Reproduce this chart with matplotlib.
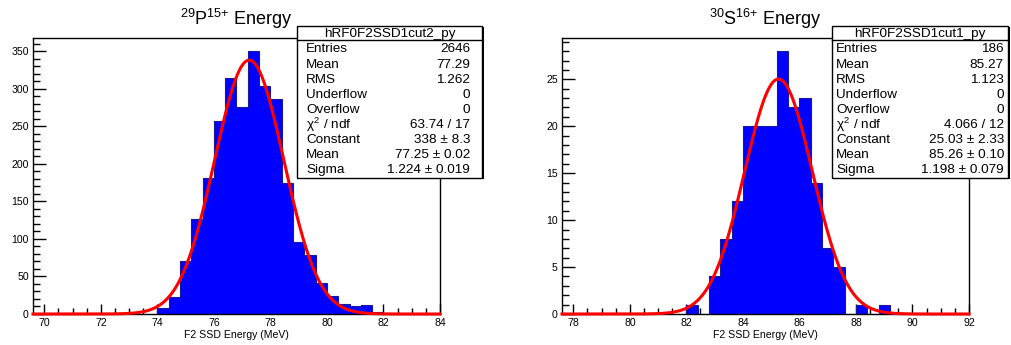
import numpy as np
import matplotlib
matplotlib.use("Agg")
import matplotlib.pyplot as plt
from matplotlib.patches import Rectangle
from matplotlib.lines import Line2D
from matplotlib.ticker import MultipleLocator

plt.rcParams['font.family'] = ['Liberation Sans', 'DejaVu Sans']
plt.rcParams['mathtext.fontset'] = 'custom'
plt.rcParams['mathtext.rm'] = 'Liberation Sans'
plt.rcParams['mathtext.it'] = 'Liberation Sans'

# ---- data ----
bin_width = 0.4

# 29P15+ : bins starting at 74.0 MeV
p29_first_edge = 74.0
p29_counts = [8, 23, 70, 126, 181, 257, 314, 275, 350, 303,
              286, 175, 96, 78, 41, 24, 13, 11, 12, 3]
p29_fit = (338.0, 77.25, 1.224)          # constant, mean, sigma
p29_xrange = (69.6, 84.0)
p29_stats = [("Entries", "2646"), ("Mean", "77.29"), ("RMS", "1.262"),
             ("Underflow", "0"), ("Overflow", "0"),
             (r"$\chi^{2}$ / ndf", "63.74 / 17"),
             ("Constant", "338 \u00b1 8.3"), ("Mean", "77.25 \u00b1 0.02"),
             ("Sigma", "1.224 \u00b1 0.019")]

# 30S16+ : bins starting at 82.0 MeV
s30_first_edge = 82.0
s30_counts = [1, 0, 4, 8, 12, 20, 20, 20, 28, 22, 23, 14, 7, 5, 0, 1, 0, 1]
s30_fit = (25.03, 85.26, 1.198)
s30_xrange = (77.6, 92.0)
s30_stats = [("Entries", "186"), ("Mean", "85.27"), ("RMS", "1.123"),
             ("Underflow", "0"), ("Overflow", "0"),
             (r"$\chi^{2}$ / ndf", "4.066 / 12"),
             ("Constant", "25.03 \u00b1 2.33"), ("Mean", "85.26 \u00b1 0.10"),
             ("Sigma", "1.198 \u00b1 0.079")]

W, H = 1011, 345
fig = plt.figure(figsize=(W / 100, H / 100), dpi=100)


def fx(px):
    return px / W


def fy(py):
    return 1 - py / H


def draw_panel(x0, counts, first_edge, fit, xrange, ymajor, yminor, title):
    ax = fig.add_axes([fx(x0), fy(314), fx(407), 276 / H])
    counts = np.array(counts, dtype=float)
    edges = first_edge + bin_width * np.arange(len(counts) + 1)
    ax.stairs(counts, edges, fill=True, color='#0000ff', zorder=2)
    ax.stairs(counts, edges, color='#1a1a99', lw=0.8, zorder=3)

    c, m, s = fit
    xs = np.linspace(xrange[0], xrange[1], 600)
    ax.plot(xs, c * np.exp(-0.5 * ((xs - m) / s) ** 2), color='#ff0000',
            lw=2.2, zorder=4, clip_on=False)

    ax.set_xlim(*xrange)
    ax.set_ylim(0, 1.05 * counts.max())
    ax.xaxis.set_major_locator(MultipleLocator(2))
    ax.xaxis.set_minor_locator(MultipleLocator(0.5))
    ax.yaxis.set_major_locator(MultipleLocator(ymajor))
    ax.yaxis.set_minor_locator(MultipleLocator(yminor))
    ax.tick_params(which='both', direction='in', top=False, right=False,
                   labelsize=7.6, colors='black', pad=3)
    ax.tick_params(axis='y', which='major', length=9, width=1)
    ax.tick_params(axis='y', which='minor', length=5, width=1)
    ax.tick_params(axis='x', which='major', length=7, width=1)
    ax.tick_params(axis='x', which='minor', length=4, width=1)
    for sp in ax.spines.values():
        sp.set_linewidth(1.0)
    ax.set_xlabel("F2 SSD Energy (MeV)", fontsize=7.6, labelpad=1)
    fig.text(fx(x0 + 203), fy(25), title, fontsize=13, ha='center',
             va='baseline')
    return ax


def draw_stats(left, right, val_x, lab_x, name, rows):
    top, head, bottom = 26, 40, 178
    shadow = Rectangle((fx(left + 1.5), fy(bottom + 1.5)), fx(right - left),
                       (bottom - top) / H, transform=fig.transFigure,
                       facecolor='black', edgecolor='none', zorder=9)
    box = Rectangle((fx(left), fy(bottom)), fx(right - left),
                    (bottom - top) / H, transform=fig.transFigure,
                    facecolor='white', edgecolor='black', lw=1.0, zorder=10)
    fig.add_artist(shadow)
    fig.add_artist(box)
    fig.add_artist(Line2D([fx(left), fx(right)], [fy(head), fy(head)],
                          transform=fig.transFigure, color='black', lw=1.0,
                          zorder=11))
    fig.text(fx((left + right) / 2), fy(33.5), name, fontsize=9.7,
             ha='center', va='center', zorder=12)
    for i, (lab, val) in enumerate(rows):
        y = fy(49.5 + i * 15.1)
        fig.text(fx(lab_x), y, lab, fontsize=9.7, ha='left', va='center',
                 zorder=12)
        fig.text(fx(val_x), y, val, fontsize=9.7, ha='right', va='center',
                 zorder=12)


draw_panel(33, p29_counts, p29_first_edge, p29_fit, p29_xrange, 50, 10,
           r"$^{29}$P$^{15{+}}$ Energy")
draw_panel(562, s30_counts, s30_first_edge, s30_fit, s30_xrange, 5, 1,
           r"$^{30}$S$^{16{+}}$ Energy")

draw_stats(297, 482, 470, 306, "hRF0F2SSD1cut2_py", p29_stats)
draw_stats(832, 1008, 1004, 836, "hRF0F2SSD1cut1_py", s30_stats)

fig.savefig("out.png", dpi=100)
